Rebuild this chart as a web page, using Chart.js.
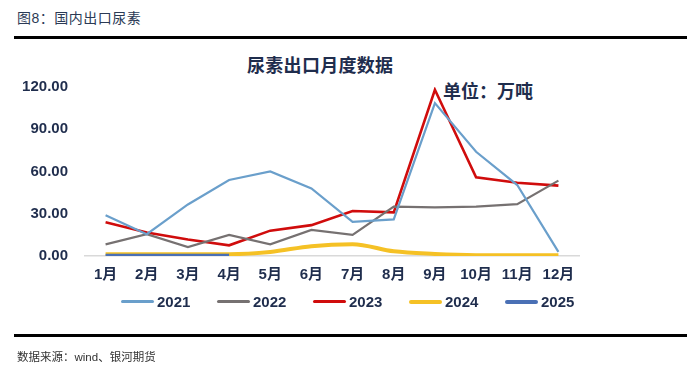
<!DOCTYPE html>
<html>
<head>
<meta charset="utf-8">
<script src="https://cdn.jsdelivr.net/npm/chart.js"></script>
<style>
  body { margin: 0; background: #fff; width: 687px; height: 370px; position: relative; overflow: hidden;
         font-family: "Liberation Sans", "Noto Sans CJK SC", sans-serif; }
  .abs { position: absolute; white-space: nowrap; }
  #figTitle { left: 17px; top: 7px; font-size: 14px; color: #2b3a55; letter-spacing: 0.5px; }
  .rule { position: absolute; left: 14px; right: 0; height: 3px; background: #000; }
  #chartTitle { left: 247px; top: 51px; font-size: 18px; font-weight: bold; color: #1f2d4d; letter-spacing: 0.3px; }
  #unit { left: 443px; top: 77px; font-size: 18px; font-weight: bold; color: #1f2d4d; }
  #legend { left: 121px; top: 293px; display: flex; }
  #legend .item { display: flex; align-items: center; width: 96px; font-size: 15px; font-weight: bold; color: #1f2d4d; }
  #legend .swatch { width: 33px; margin-right: 3px; border-radius: 2px; }
  #source { left: 17px; top: 348px; font-size: 11.5px; color: #333; }
  #c { position: absolute; left: 0; top: 0; }
</style>
</head>
<body>
<div class="abs" id="figTitle">图8：国内出口尿素</div>
<div class="rule" style="top:36px"></div>
<div class="abs" id="chartTitle">尿素出口月度数据</div>
<div class="abs" id="unit">单位：万吨</div>
<canvas id="c" width="687" height="370"></canvas>
<div class="abs" id="legend"></div>
<div class="rule" style="top:334px"></div>
<div class="abs" id="source">数据来源：wind、银河期货</div>

<script>
// 月份
const months = ['1月','2月','3月','4月','5月','6月','7月','8月','9月','10月','11月','12月'];

// 尿素出口量（万吨）
const y2021 = [29, 15.5, 36.6, 54, 60, 48, 24.2, 26, 108.6, 74, 50.4, 2.9];
const y2022 = [8.3, 15.5, 6.4, 15, 8.3, 18.5, 15, 35, 34.5, 35, 36.8, 53.5];
const y2023 = [24, 16.7, 11.7, 7.6, 18, 21.9, 32, 31, 118, 55.9, 52, 50];
const y2024 = [1.3, 1.3, 1.3, 1.3, 2.9, 7, 8.3, 3.3, 1.5, 0.6, 0.5, 0.5];
const y2025 = [0.1, 0.1, 0.1, 0.1];

const navy = '#1f2d4d';
const font = '"Liberation Sans", "Noto Sans CJK SC", sans-serif';

const datasets = [
  { label: '2021', data: y2021, borderColor: '#6a9fcb', borderWidth: 2.2 },
  { label: '2022', data: y2022, borderColor: '#767171', borderWidth: 2.2 },
  { label: '2023', data: y2023, borderColor: '#d00c0c', borderWidth: 2.6 },
  { label: '2024', data: y2024, borderColor: '#f5c125', borderWidth: 4, cubicInterpolationMode: 'monotone' },
  { label: '2025', data: y2025, borderColor: '#4a70b5', borderWidth: 4, order: -1 }
].map(d => Object.assign({ pointRadius: 0, fill: false, tension: 0 }, d));

new Chart(document.getElementById('c').getContext('2d'), {
  type: 'line',
  data: { labels: months, datasets: datasets },
  options: {
    responsive: false,
    animation: false,
    layout: { padding: { top: 87, right: 108, left: 0, bottom: 84 } },
    plugins: { legend: { display: false }, title: { display: false }, tooltip: { enabled: false } },
    scales: {
      x: {
        offset: true,
        grid: { display: false, drawTicks: false },
        border: { display: true, color: '#d9d9d9', width: 1.5 },
        ticks: { padding: 10, color: navy, font: { family: font, size: 15, weight: 'bold' } },
        afterFit: s => { s.height = 30; }
      },
      y: {
        min: 0, max: 120,
        grid: { display: false, drawTicks: false },
        border: { display: false },
        ticks: {
          stepSize: 30, padding: 17, color: navy,
          font: { family: font, size: 15, weight: 'bold' },
          callback: v => v.toFixed(2)
        },
        afterFit: s => { s.width = 85; }
      }
    }
  }
});

// 图例
const legend = document.getElementById('legend');
datasets.forEach(d => {
  const item = document.createElement('div');
  item.className = 'item';
  const sw = document.createElement('span');
  sw.className = 'swatch';
  sw.style.background = d.borderColor;
  sw.style.height = Math.max(3, d.borderWidth) + 'px';
  item.appendChild(sw);
  item.appendChild(document.createTextNode(d.label));
  legend.appendChild(item);
});
</script>
</body>
</html>
